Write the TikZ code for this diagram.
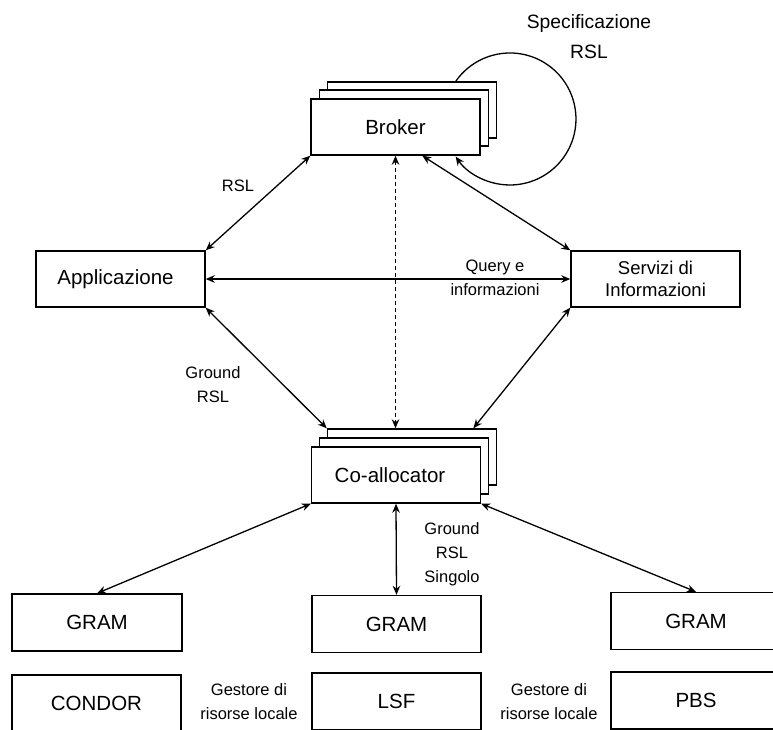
\documentclass[tikz,border=0pt]{standalone}
\usepackage{fontspec}
\setmainfont{Liberation Sans}
\usetikzlibrary{arrows.meta,calc}
\begin{document}
\begin{tikzpicture}[x=1pt,y=-1pt,
  box/.style={draw, line width=1.4pt, fill=white, minimum width=169pt,
    minimum height=56pt, inner sep=0pt, align=center,
    font=\fontsize{20.5}{24}\selectfont},
  lbl/.style={inner sep=0pt, align=center, font=\fontsize{16.5}{24}\selectfont},
  link/.style={line width=1.3pt, {Stealth[length=9pt,width=7.5pt]}-{Stealth[length=9pt,width=7.5pt]}},
]
\clip (0,0) rectangle (773,729);

% self loop of the broker
\draw[line width=1.3pt, -{Stealth[length=9pt,width=7.5pt]}]
  (455.5,81.7) arc[start angle=214.4, end angle=505.4, radius=66];
\node[inner sep=0pt, align=center, font=\fontsize{19.3}{30}\selectfont]
  (spec) at (589,37) {Specificazione\\RSL};

% broker, drawn as a stack of three sheets
\node[box] (brokerC) at (412,110) {};
\node[box] (brokerB) at (404,118) {};
\node[box] (broker) at (395.5,127) {Broker};

\node[box] (app) at (120.5,279) {\hspace*{-10pt}Applicazione};
\node[box, font=\fontsize{18.5}{21.5}\selectfont] (serv) at (655.5,279) {Servizi di\\Informazioni};

% co-allocator stack
\node[box] (coC) at (412,457) {};
\node[box] (coB) at (404,466) {};
\node[box] (coll) at (396,475) {\hspace*{-12pt}Co-allocator};

% resource managers
\node[box, minimum width=170pt, minimum height=57pt] (gram1) at (97,622.5) {GRAM};
\node[box, minimum width=169pt, minimum height=57pt] (gram2) at (396.5,624) {GRAM};
\node[box, minimum width=170pt, minimum height=57pt] (gram3) at (696,621) {GRAM};
\node[box, minimum width=169pt, minimum height=57pt] (condor) at (96.5,703.5) {CONDOR};
\node[box, minimum width=169pt, minimum height=57pt] (lsf) at (396.5,701.5) {LSF};
\node[box, minimum width=170pt, minimum height=57pt] (pbs) at (696,700.5) {PBS};

% connectors
\draw[link] (broker.south west) -- (app.north east);
\draw[link] ($(broker.south west)!0.657!(broker.south east)$) -- (serv.north west);
\draw[link, dash pattern=on 4pt off 3pt] (broker.south) -- (broker.south |- coC.north);
\draw[link] (app.east) -- (serv.west);
\draw[link] (app.south east) -- (coC.north west);
\draw[link] (serv.south west) -- ($(coC.north west)!0.86!(coC.north east)$);
\draw[link] (coll.south west) -- (gram1.north);
\draw[link] (coll.south) -- (gram2.north);
\draw[link] (coll.south east) -- (gram3.north);

% connector labels
\node[lbl] (lrsl) at (238,186) {RSL};
\node[lbl] (lquery) at (495,278) {Query e\\informazioni};
\node[lbl] (lground) at (213,385) {Ground\\RSL};
\node[lbl] (lsingle) at (452,554) {Ground\\RSL\\Singolo};
\node[lbl] (lgest1) at (249,702) {Gestore di\\risorse locale};
\node[lbl] (lgest2) at (549,702) {Gestore di\\risorse locale};
\end{tikzpicture}
\end{document}
